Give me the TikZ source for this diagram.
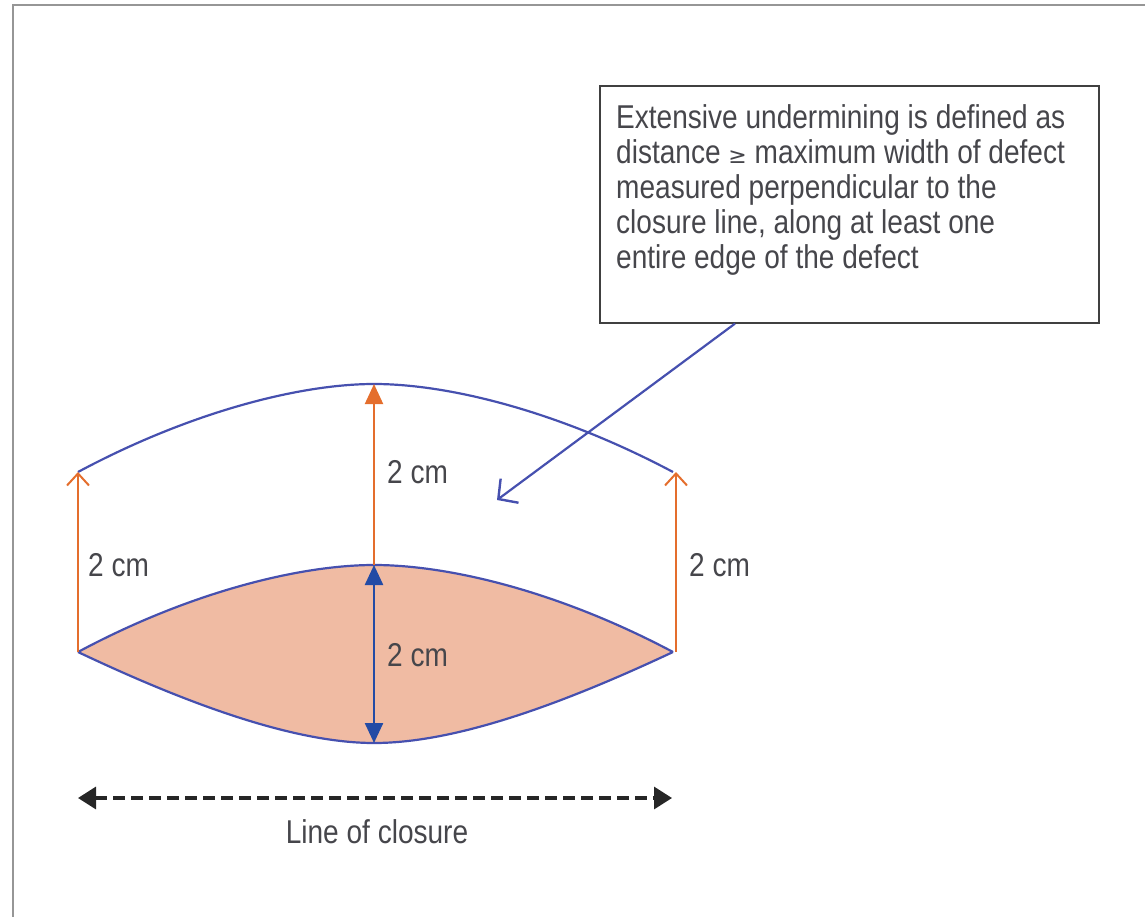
\documentclass[tikz,border=0pt]{standalone}
\usepackage{fontspec}
\setmainfont{Liberation Sans}[FakeStretch=0.85]
\usetikzlibrary{arrows.meta,calc}
\definecolor{framegray}{RGB}{150,150,150}
\definecolor{txtgray}{RGB}{70,70,75}
\definecolor{curveblue}{RGB}{70,80,175}
\definecolor{arrblue}{RGB}{35,75,165}
\definecolor{orng}{RGB}{228,110,45}
\definecolor{salmon}{RGB}{240,187,163}
\tikzset{
  lbl/.style={text=txtgray, font=\fontsize{33}{35}\selectfont, inner sep=0pt},
  curve/.style={draw=curveblue, line width=2.2pt},
  orarrow/.style={draw=orng, line width=2pt, -{Straight Barb[length=12pt,width=22pt,line width=2pt]}},
  orarrowf/.style={draw=orng, line width=2pt, -{Triangle[length=20pt,width=18pt]}},
  bluedbl/.style={draw=arrblue, line width=2.4pt, {Triangle[length=20pt,width=18pt]}-{Triangle[length=20pt,width=18pt]}},
  leader/.style={draw=curveblue, line width=2.2pt, -{Straight Barb[length=14pt,width=30pt,line width=2.4pt]}},
  closure/.style={draw=black!85, line width=3.2pt, dash pattern=on 12pt off 6pt, {Triangle[length=18pt,width=22pt]}-{Triangle[length=18pt,width=22pt]}},
}
\begin{document}
\begin{tikzpicture}[x=1pt,y=-1pt]
\useasboundingbox (0,0) rectangle (1145,917);
% frame
\draw[framegray, line width=2.5pt] (13,917) -- (13,5) -- (1145,5);

% key points
\coordinate (UL) at (78,472);
\coordinate (UT) at (374,384);
\coordinate (UR) at (673,472);
\coordinate (LL) at (78,652);
\coordinate (LT) at (374,565);
\coordinate (LB) at (374,743);
\coordinate (LR) at (673,652);
\coordinate (RL) at (676,652);
\coordinate (RU) at (676,472);

% lens (defect)
\fill[salmon] (LL) .. controls (190,592) and (300,565) .. (LT) .. controls (450,565) and (560,592) .. (LR)
  .. controls (560,705) and (455,743) .. (LB) .. controls (295,743) and (190,705) .. (LL) -- cycle;
\draw[curve] (LL) .. controls (190,592) and (300,565) .. (LT) .. controls (450,565) and (560,592) .. (LR);
\draw[curve] (LL) .. controls (190,705) and (295,743) .. (LB) .. controls (455,743) and (560,705) .. (LR);

% undermining outline
\draw[curve] (UL) .. controls (190,412) and (300,384) .. (UT) .. controls (450,384) and (560,412) .. (UR);

% orange arrows
\draw[orarrow] (LL) -- (UL);
\draw[orarrow] (RL) -- (RU);
\draw[orarrowf] (LT) -- (UT);

% blue double arrow
\draw[bluedbl] (LT) -- (LB);

% labels
\node[lbl, anchor=west] (l1) at (88,565) {2 cm};
\node[lbl, anchor=west] (l2) at (387,472) {2 cm};
\node[lbl, anchor=west] (l3) at (689,565) {2 cm};
\node[lbl, anchor=west] (l4) at (387,655) {2 cm};

% info box
\node[draw=black!75, line width=1.6pt, minimum width=499pt, minimum height=237pt, anchor=north west, inner sep=0pt] (box) at (599,85) {};
\node[lbl, anchor=north west, align=left] (boxtext) at (616,104)
  {Extensive undermining is defined as\\
   distance {\fontspec{DejaVu Sans}\fontsize{22}{35}\selectfont ≥} maximum width of defect\\
   measured perpendicular to the\\
   closure line, along at least one\\
   entire edge of the defect};
\coordinate (target) at (497,500);
\draw[leader] ($(box.south west)+(136,0)$) -- (target);

% line of closure
\coordinate (cl) at (78,798);
\coordinate (cr) at (672,798);
\draw[closure] (cl) -- (cr);
\node[lbl] (clos) at (377,832) {Line of closure};
\end{tikzpicture}
\end{document}
